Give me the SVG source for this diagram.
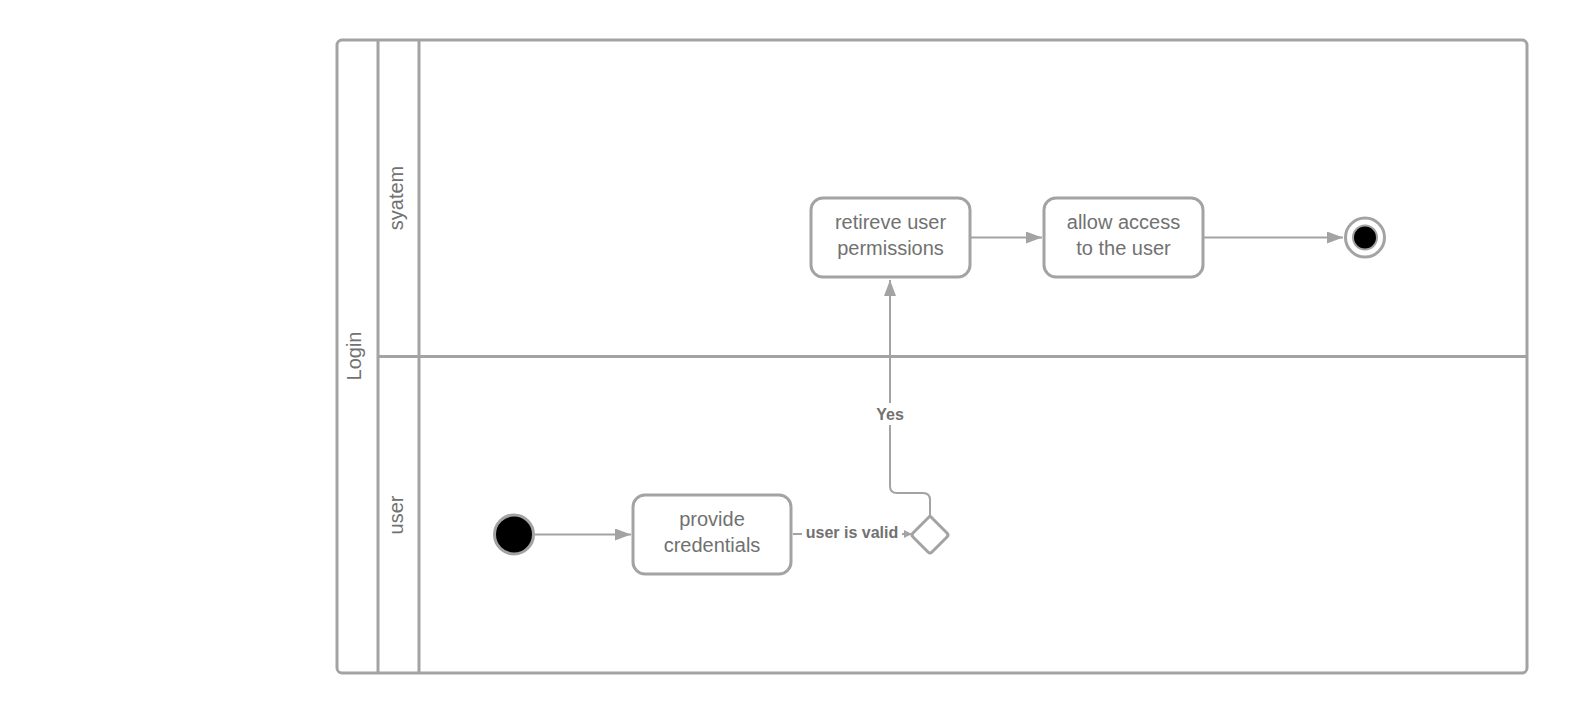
<svg xmlns="http://www.w3.org/2000/svg" width="1583" height="720" viewBox="0 0 1583 720">
<style>
.frame{fill:none;stroke:#a3a3a3;stroke-width:3}
.node{fill:#fff;stroke:#a3a3a3;stroke-width:3}
.t{font-family:"Liberation Sans",Arial,sans-serif;font-size:20px;fill:#717171;text-anchor:middle}
.lbl{font-family:"Liberation Sans",Arial,sans-serif;font-size:16px;font-weight:bold;fill:#717171;text-anchor:middle}
.c{fill:none;stroke:#a3a3a3;stroke-width:2}
</style>
<defs>
<marker id="arr" markerWidth="16" markerHeight="12" refX="16" refY="6" orient="auto" markerUnits="userSpaceOnUse">
<path d="M0,0 L16,6 L0,12 Z" fill="#a3a3a3"/>
</marker>
<marker id="arrs" markerWidth="8" markerHeight="8" refX="8" refY="4" orient="auto" markerUnits="userSpaceOnUse">
<path d="M0,0 L8,4 L0,8 Z" fill="#a3a3a3"/>
</marker>
</defs>
<rect width="1583" height="720" fill="#fff"/>
<g id="pool">
<rect class="frame" x="337" y="40" width="1190" height="633" rx="5"/>
<line class="frame" x1="378" y1="40" x2="378" y2="673"/>
<line class="frame" x1="419" y1="40" x2="419" y2="673"/>
<line class="frame" x1="378" y1="356.5" x2="1527" y2="356.5"/>
<text class="t" transform="translate(361,356) rotate(-90)">Login</text>
<text class="t" transform="translate(403,198) rotate(-90)">syatem</text>
<text class="t" transform="translate(403,515) rotate(-90)">user</text>
</g>
<g id="connectors">
<line class="c" x1="535" y1="534.5" x2="631" y2="534.5" marker-end="url(#arr)"/>
<line class="c" x1="793" y1="534" x2="912" y2="534" marker-end="url(#arrs)"/>
<rect x="802" y="522" width="100" height="22" fill="#fff"/>
<text class="lbl" x="852" y="538">user is valid</text>
<path class="c" d="M930,516 V500 Q930,493 923,493 H897 Q890,493 890,486 V280" marker-end="url(#arr)"/>
<rect x="872" y="403" width="36" height="22" fill="#fff"/>
<text class="lbl" x="890" y="420">Yes</text>
<line class="c" x1="971" y1="237.5" x2="1042" y2="237.5" marker-end="url(#arr)"/>
<line class="c" x1="1204" y1="237.5" x2="1343" y2="237.5" marker-end="url(#arr)"/>
</g>
<g id="start">
<circle cx="514" cy="534.5" r="19.5" fill="#000" stroke="#a3a3a3" stroke-width="3"/>
</g>
<g id="provide">
<rect class="node" x="633" y="495" width="158" height="79" rx="12"/>
<text class="t" x="712" y="526">provide</text>
<text class="t" x="712" y="552">credentials</text>
</g>
<g id="decision">
<path class="node" d="M930,516 L947,533 Q949,535 947,537 L932,552 Q930,554 928,552 L913,537 Q911,535 913,533 Z"/>
</g>
<g id="retrieve">
<rect class="node" x="811" y="198" width="159" height="79" rx="12"/>
<text class="t" x="890.5" y="229">retireve user</text>
<text class="t" x="890.5" y="255">permissions</text>
</g>
<g id="allow">
<rect class="node" x="1044" y="198" width="159" height="79" rx="12"/>
<text class="t" x="1123.5" y="229">allow access</text>
<text class="t" x="1123.5" y="255">to the user</text>
</g>
<g id="final">
<circle cx="1365" cy="237.5" r="19.5" fill="#fff" stroke="#a3a3a3" stroke-width="3"/>
<circle cx="1365" cy="237.5" r="12" fill="#000" stroke="#a3a3a3" stroke-width="2"/>
</g>
</svg>
